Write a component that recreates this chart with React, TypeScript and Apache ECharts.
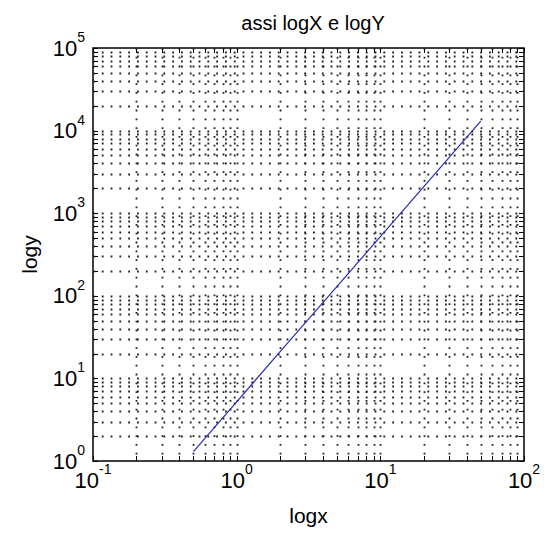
import React, { useEffect, useRef } from "react";
import * as echarts from "echarts";

// ---- data ----
const titleText = "assi logX e logY";
const xName = "logx";
const yName = "logy";
const lineX = [0.5, 1, 2, 5, 10, 20, 50];
const lineY = [1.3, 5.2, 21, 130, 520, 2080, 13000];
const xDecades = [0.1, 1, 10, 100];
const yDecades = [1, 10, 100, 1000, 10000, 100000];
const minorMultipliers = [2, 3, 4, 5, 6, 7, 8, 9];
const xMin = 0.1, xMax = 100, yMin = 1, yMax = 100000;

const FONT = "'Liberation Sans', Arial, sans-serif";

function gridValues(decades: number[]) {
  const out: number[] = [];
  decades.forEach((d, i) => {
    out.push(d);
    if (i < decades.length - 1) minorMultipliers.forEach((m) => out.push(d * m));
  });
  return out;
}

const tickLen = 5;
const dotStyle = { stroke: "#222", lineWidth: 1.8, lineDash: [1.8, 7] };
const tickStyle = { stroke: "#000", lineWidth: 1 };

function expLabel(v: number) {
  const e = Math.round(Math.log10(v));
  return "{b|10}{s|" + e + "}";
}

const richLabel = {
  b: { fontSize: 22, fontFamily: FONT, color: "#000", lineHeight: 22 },
  s: { fontSize: 14, fontFamily: FONT, color: "#000", lineHeight: 14, padding: [0, 0, 22, 0] },
};

export default function App() {
  const ref = useRef<HTMLDivElement>(null);
  useEffect(() => {
    if (!ref.current) return;
    const chart = echarts.init(ref.current, undefined, { renderer: "svg" });
    const xg = gridValues(xDecades).map((v) => [v, yMin]);
    const yg = gridValues(yDecades).map((v) => [xMin, v]);
    chart.setOption({
      animation: false,
      backgroundColor: "#fff",
      title: {
        text: titleText,
        left: 308,
        top: 8,
        textAlign: "center",
        textStyle: { fontFamily: FONT, fontSize: 20, fontWeight: "normal", color: "#000" },
      },
      grid: {
        left: 93,
        top: 48,
        width: 431,
        height: 413,
        show: true,
        borderColor: "#000",
        borderWidth: 1.5,
        backgroundColor: "transparent",
      },
      xAxis: {
        type: "log",
        logBase: 10,
        min: xMin,
        max: xMax,
        name: xName,
        nameLocation: "middle",
        nameGap: 44,
        nameTextStyle: { fontFamily: FONT, fontSize: 21, color: "#000" },
        axisLine: { show: false },
        axisTick: { show: false },
        splitLine: { show: false },
        axisLabel: { formatter: expLabel, rich: richLabel, margin: 8 },
      },
      yAxis: {
        type: "log",
        logBase: 10,
        min: yMin,
        max: yMax,
        name: yName,
        nameLocation: "middle",
        nameGap: 53,
        nameTextStyle: { fontFamily: FONT, fontSize: 21, color: "#000" },
        axisLine: { show: false },
        axisTick: { show: false },
        splitLine: { show: false },
        axisLabel: { formatter: expLabel, rich: richLabel, margin: 8 },
      },
      series: [
        {
          type: "custom",
          z: 1,
          silent: true,
          data: xg,
          renderItem: (params: any, api: any) => {
            const v = api.value(0);
            const cs = params.coordSys;
            const px = Math.round(api.coord([v, yMin])[0]) + 0.5;
            const top = cs.y, bot = cs.y + cs.height;
            const children: any[] = [
              { type: "line", shape: { x1: px, y1: bot, x2: px, y2: bot - tickLen }, style: tickStyle },
              { type: "line", shape: { x1: px, y1: top, x2: px, y2: top + tickLen }, style: tickStyle },
            ];
            if (v > xMin && v < xMax) {
              children.push({ type: "line", shape: { x1: px, y1: top, x2: px, y2: bot }, style: dotStyle });
            }
            return { type: "group", children };
          },
        },
        {
          type: "custom",
          z: 1,
          silent: true,
          data: yg,
          renderItem: (params: any, api: any) => {
            const v = api.value(1);
            const cs = params.coordSys;
            const py = Math.round(api.coord([xMin, v])[1]) + 0.5;
            const left = cs.x, right = cs.x + cs.width;
            const children: any[] = [
              { type: "line", shape: { x1: left, y1: py, x2: left + tickLen, y2: py }, style: tickStyle },
              { type: "line", shape: { x1: right, y1: py, x2: right - tickLen, y2: py }, style: tickStyle },
            ];
            if (v > yMin && v < yMax) {
              children.push({ type: "line", shape: { x1: left, y1: py, x2: right, y2: py }, style: dotStyle });
            }
            return { type: "group", children };
          },
        },
        {
          type: "line",
          z: 3,
          data: lineX.map((x, i) => [x, lineY[i]]),
          showSymbol: false,
          symbol: "none",
          lineStyle: { color: "#2a2ab8", width: 1.2 },
        },
      ],
    });
    return () => chart.dispose();
  }, []);
  return (
    <div
      ref={ref}
      style={{ position: "fixed", left: 0, top: 0, width: 545, height: 535, background: "#fff" }}
    />
  );
}
